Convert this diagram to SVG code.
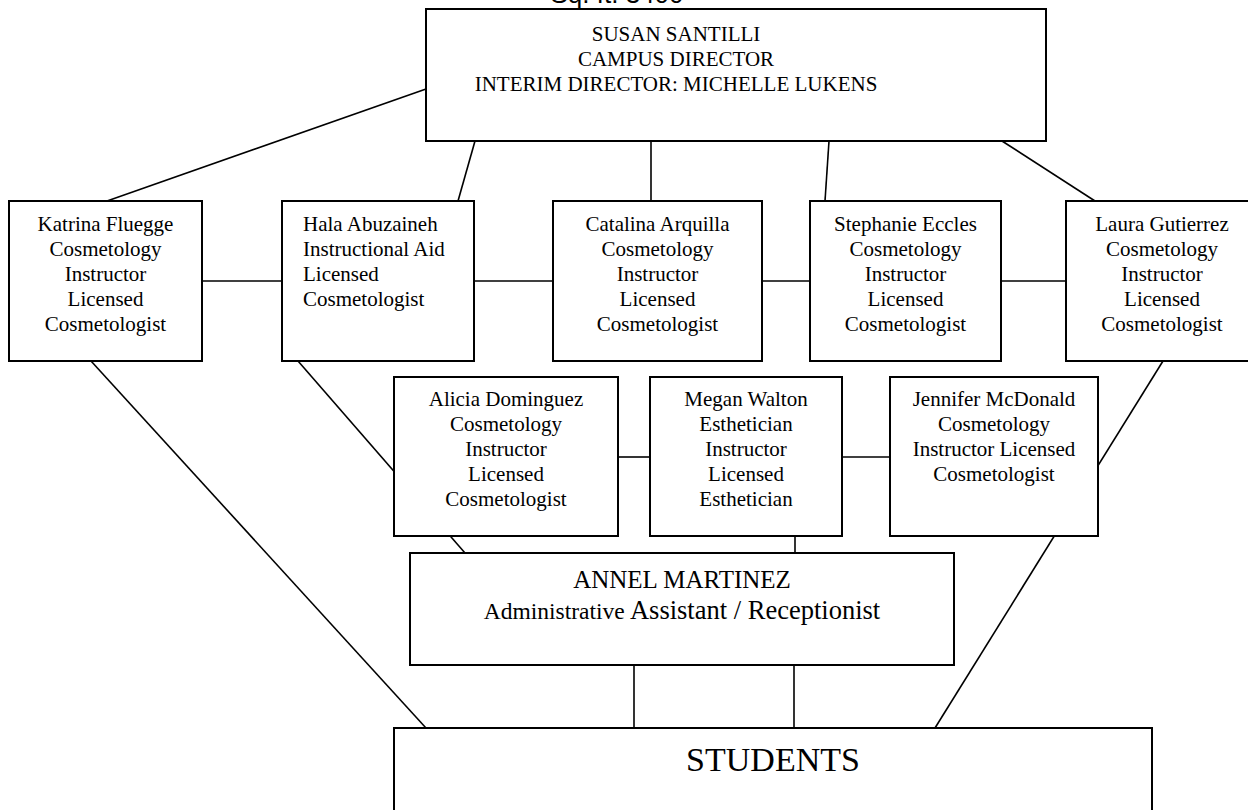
<svg xmlns="http://www.w3.org/2000/svg" width="1248" height="810" viewBox="0 0 1248 810">
<style>
.box{fill:#fff;stroke:#000;stroke-width:2}
.ln{stroke:#000;stroke-width:1.6;fill:none}
.t{font-family:"Liberation Serif","Times New Roman",serif;font-size:21px;fill:#000}
.c{text-anchor:middle}
</style>
<rect width="1248" height="810" fill="#fff"/>
<text x="617" y="3" style="font-family:'Liberation Sans',Arial,sans-serif;font-size:26px" text-anchor="middle">Sq. ft. 3400</text>
<g id="connectors" class="ln">
<line x1="426" y1="89" x2="107" y2="201"/>
<line x1="475" y1="141" x2="458" y2="201"/>
<line x1="651" y1="141" x2="651" y2="201"/>
<line x1="829" y1="141" x2="825" y2="201"/>
<line x1="1002" y1="141" x2="1095" y2="201"/>
<line x1="202" y1="281" x2="282" y2="281"/>
<line x1="474" y1="281" x2="553" y2="281"/>
<line x1="762" y1="281" x2="810" y2="281"/>
<line x1="1001" y1="281" x2="1066" y2="281"/>
<line x1="91" y1="361" x2="426" y2="728"/>
<line x1="298" y1="361" x2="465" y2="553"/>
<line x1="1163" y1="361" x2="935" y2="728"/>
<line x1="618" y1="457" x2="650" y2="457"/>
<line x1="842" y1="457" x2="890" y2="457"/>
<line x1="795" y1="536" x2="795" y2="553"/>
<line x1="634" y1="665" x2="634" y2="728"/>
<line x1="794" y1="665" x2="794" y2="728"/>
</g>
<g id="director">
<rect class="box" x="426" y="9" width="620" height="132"/>
<text class="t c" x="676" y="41">SUSAN SANTILLI</text>
<text class="t c" x="676" y="66">CAMPUS DIRECTOR</text>
<text class="t c" x="676" y="91">INTERIM DIRECTOR: MICHELLE LUKENS</text>
</g>
<g id="katrina">
<rect class="box" x="9" y="201" width="193" height="160"/>
<text class="t c" x="105.5" y="231">Katrina Fluegge</text>
<text class="t c" x="105.5" y="256">Cosmetology</text>
<text class="t c" x="105.5" y="281">Instructor</text>
<text class="t c" x="105.5" y="306">Licensed</text>
<text class="t c" x="105.5" y="331">Cosmetologist</text>
</g>
<g id="hala">
<rect class="box" x="282" y="201" width="192" height="160"/>
<text class="t" x="303" y="231">Hala Abuzaineh</text>
<text class="t" x="303" y="256">Instructional Aid</text>
<text class="t" x="303" y="281">Licensed</text>
<text class="t" x="303" y="306">Cosmetologist</text>
</g>
<g id="catalina">
<rect class="box" x="553" y="201" width="209" height="160"/>
<text class="t c" x="657.5" y="231">Catalina Arquilla</text>
<text class="t c" x="657.5" y="256">Cosmetology</text>
<text class="t c" x="657.5" y="281">Instructor</text>
<text class="t c" x="657.5" y="306">Licensed</text>
<text class="t c" x="657.5" y="331">Cosmetologist</text>
</g>
<g id="stephanie">
<rect class="box" x="810" y="201" width="191" height="160"/>
<text class="t c" x="905.5" y="231">Stephanie Eccles</text>
<text class="t c" x="905.5" y="256">Cosmetology</text>
<text class="t c" x="905.5" y="281">Instructor</text>
<text class="t c" x="905.5" y="306">Licensed</text>
<text class="t c" x="905.5" y="331">Cosmetologist</text>
</g>
<g id="laura">
<rect class="box" x="1066" y="201" width="192" height="160"/>
<text class="t c" x="1162" y="231">Laura Gutierrez</text>
<text class="t c" x="1162" y="256">Cosmetology</text>
<text class="t c" x="1162" y="281">Instructor</text>
<text class="t c" x="1162" y="306">Licensed</text>
<text class="t c" x="1162" y="331">Cosmetologist</text>
</g>
<g id="alicia">
<rect class="box" x="394" y="377" width="224" height="159"/>
<text class="t c" x="506" y="406">Alicia Dominguez</text>
<text class="t c" x="506" y="431">Cosmetology</text>
<text class="t c" x="506" y="456">Instructor</text>
<text class="t c" x="506" y="481">Licensed</text>
<text class="t c" x="506" y="506">Cosmetologist</text>
</g>
<g id="megan">
<rect class="box" x="650" y="377" width="192" height="159"/>
<text class="t c" x="746" y="406">Megan Walton</text>
<text class="t c" x="746" y="431">Esthetician</text>
<text class="t c" x="746" y="456">Instructor</text>
<text class="t c" x="746" y="481">Licensed</text>
<text class="t c" x="746" y="506">Esthetician</text>
</g>
<g id="jennifer">
<rect class="box" x="890" y="377" width="208" height="159"/>
<text class="t c" x="994" y="406">Jennifer McDonald</text>
<text class="t c" x="994" y="431">Cosmetology</text>
<text class="t c" x="994" y="456">Instructor Licensed</text>
<text class="t c" x="994" y="481">Cosmetologist</text>
</g>
<g id="annel">
<rect class="box" x="410" y="553" width="544" height="112"/>
<text class="t c" x="682" y="588" style="font-size:25px">ANNEL MARTINEZ</text>
<text class="t c" x="682" y="619"><tspan style="font-size:23.5px">Administrative</tspan><tspan style="font-size:26.5px"> Assistant / Receptionist</tspan></text>
</g>
<g id="students">
<rect class="box" x="394" y="728" width="758" height="100"/>
<text class="t c" x="773" y="771" style="font-size:34px">STUDENTS</text>
</g>
</svg>
